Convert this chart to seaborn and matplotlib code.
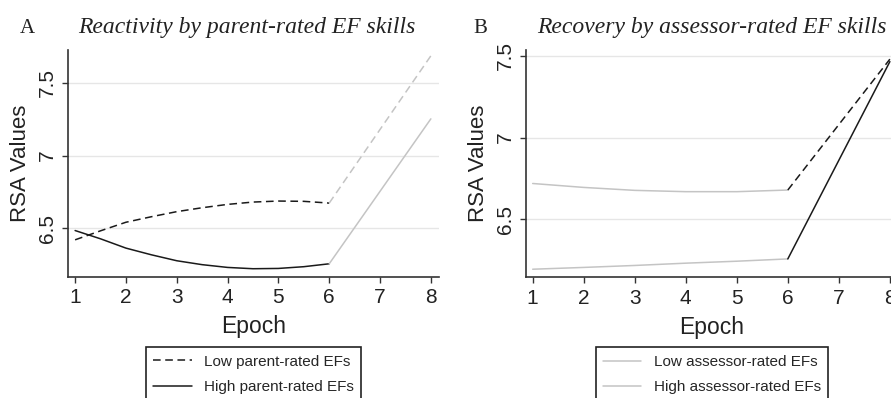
import numpy as np
import pandas as pd
import matplotlib
matplotlib.use("Agg")
import matplotlib.pyplot as plt
from matplotlib.lines import Line2D
import seaborn as sns

# ---- data ----
# panel A: epochs 1-6 (curved part) and 6-8 (straight jump)
epoch_a = [1, 1.5, 2, 2.5, 3, 3.5, 4, 4.5, 5, 5.5, 6]
low_parent = [6.420, 6.482, 6.541, 6.579, 6.614, 6.641, 6.664, 6.680, 6.687, 6.685, 6.673]
high_parent = [6.484, 6.427, 6.363, 6.317, 6.276, 6.249, 6.230, 6.221, 6.223, 6.235, 6.255]
epoch_jump = [6, 8]
low_parent_jump = [6.673, 7.687]
high_parent_jump = [6.255, 7.253]

# panel B
epoch_b = [1, 2, 3, 4, 5, 6]
low_assessor = [6.720, 6.696, 6.678, 6.670, 6.670, 6.680]
high_assessor = [6.196, 6.207, 6.219, 6.233, 6.245, 6.259]
low_assessor_jump = [6.680, 7.480]
high_assessor_jump = [6.259, 7.465]

x_ticks = [1, 2, 3, 4, 5, 6, 7, 8]
y_ticks = [6.5, 7, 7.5]
y_ticklabels = ["6.5", "7", "7.5"]

BLACK = "#1a1a1a"
LIGHT = "#c4c4c4"

sns.set_theme(style="white")
plt.rcParams["font.family"] = ["Liberation Sans", "DejaVu Sans"]

fig = plt.figure(figsize=(8.91, 3.98), dpi=100)
ax_a = fig.add_axes([0.0763, 0.304, 0.4164, 0.570])
ax_b = fig.add_axes([0.5904, 0.303, 0.4175, 0.571])


def draw(ax, x, y, color, ls):
    df = pd.DataFrame({"Epoch": x, "RSA": y})
    sns.lineplot(data=df, x="Epoch", y="RSA", ax=ax, color=color,
                 linestyle=ls, linewidth=1.1, estimator=None, sort=False)


draw(ax_a, epoch_a, low_parent, BLACK, (0, (5, 3)))
draw(ax_a, epoch_a, high_parent, BLACK, "-")
draw(ax_a, epoch_jump, low_parent_jump, LIGHT, (0, (5, 3)))
draw(ax_a, epoch_jump, high_parent_jump, LIGHT, "-")

draw(ax_b, epoch_b, low_assessor, LIGHT, "-")
draw(ax_b, epoch_b, high_assessor, LIGHT, "-")
draw(ax_b, epoch_jump, low_assessor_jump, BLACK, (0, (5, 3)))
draw(ax_b, epoch_jump, high_assessor_jump, BLACK, "-")

ax_a.set_xlim(0.86, 8.16)
ax_a.set_ylim(6.164, 7.726)
ax_b.set_xlim(0.87, 8.16)
ax_b.set_ylim(6.146, 7.535)

for ax in (ax_a, ax_b):
    ax.set_xticks(x_ticks)
    ax.set_yticks(y_ticks)
    ax.set_yticklabels(y_ticklabels, rotation=90, va="center")
    ax.grid(axis="y", color="#e6e6e6", linewidth=1.0)
    ax.set_axisbelow(True)
    for side in ("top", "right"):
        ax.spines[side].set_visible(False)
    for side in ("left", "bottom"):
        ax.spines[side].set_color("#333333")
        ax.spines[side].set_linewidth(1.2)
    ax.tick_params(axis="both", which="major", length=4, width=1,
                   color="#333333", direction="out", labelsize=15,
                   labelcolor="#222222", pad=4, bottom=True, left=True)
    ax.set_xlabel("Epoch", fontsize=16.5, color="#222222", labelpad=6)
    ax.set_ylabel("RSA Values", fontsize=16, color="#222222", labelpad=5)

# legends (cut off at the bottom in the reference)
leg_a = [Line2D([], [], color=BLACK, lw=1.1, ls=(0, (5, 3))),
         Line2D([], [], color=BLACK, lw=1.1, ls="-")]
leg_b = [Line2D([], [], color=LIGHT, lw=1.1, ls="-"),
         Line2D([], [], color=LIGHT, lw=1.1, ls="-")]

for ax, handles, labels in (
        (ax_a, leg_a, ["Low parent-rated EFs", "High parent-rated EFs"]),
        (ax_b, leg_b, ["Low assessor-rated EFs", "High assessor-rated EFs"])):
    lg = ax.legend(handles, labels, loc="upper center",
                   bbox_to_anchor=(0.5, -0.308), borderaxespad=0,
                   fontsize=11, frameon=True,
                   fancybox=False, edgecolor="#222222", framealpha=1,
                   handlelength=2.5, handletextpad=0.8,
                   labelspacing=0.75, borderpad=0.5)
    lg.get_frame().set_linewidth(1.2)

serif = ["Liberation Serif", "DejaVu Serif"]
fig.text(0.022, 0.918, "A", family=serif, fontsize=15, color="#222222")
fig.text(0.277, 0.918, "Reactivity by parent-rated EF skills", family=serif,
         style="italic", fontsize=17, color="#222222", ha="center")
fig.text(0.531, 0.918, "B", family=serif, fontsize=15, color="#222222")
fig.text(0.799, 0.918, "Recovery by assessor-rated EF skills", family=serif,
         style="italic", fontsize=17, color="#222222", ha="center")

fig.savefig("out.png", dpi=100)
